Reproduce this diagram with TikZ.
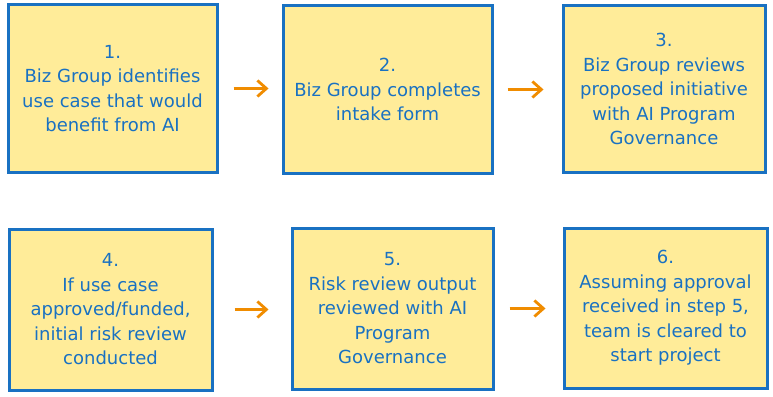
\documentclass[tikz,border=0pt]{standalone}
\usepackage{fontspec}
\setmainfont{DejaVu Sans}
\usepackage{xcolor}
\usepackage{tikz}
\usetikzlibrary{arrows.meta, positioning}
\definecolor{sticky}{HTML}{FFEC99}
\definecolor{inkblue}{HTML}{1971C2}
\definecolor{orange}{HTML}{F08C00}
\tikzset{
  stepbox/.style={rectangle, draw=inkblue, fill=sticky, text=inkblue, line width=3pt, align=center, font=\fontsize{18}{24.5}\selectfont, inner sep=4pt},
  flow/.style={-{Straight Barb[length=9pt, width=16pt, line width=2.8pt]}, line width=2.8pt, color=orange, shorten <=15pt, shorten >=15pt},
}
\begin{document}
\begin{tikzpicture}[x=1pt, y=-1pt]
  \useasboundingbox (0,0) rectangle (773,396);
  % top row
  \node[stepbox, minimum width=209pt, minimum height=167pt] (identify) at (112.5,88.5) {1.\\Biz Group identifies\\use case that would\\benefit from AI};
  \node[stepbox, minimum width=209pt, minimum height=167pt] (intake) at (387.5,89.5) {2.\\Biz Group completes\\intake form};
  \node[stepbox, minimum width=202pt, minimum height=166pt] (propose) at (664,89) {3.\\Biz Group reviews\\proposed initiative\\with AI Program\\Governance};
  % bottom row
  \node[stepbox, minimum width=203pt, minimum height=161pt] (riskreview) at (110.5,309.5) {4.\\If use case\\approved/funded,\\initial risk review\\conducted};
  \node[stepbox, minimum width=201pt, minimum height=161pt] (output) at (392.5,308.5) {5.\\Risk review output\\reviewed with AI\\Program\\Governance};
  \node[stepbox, minimum width=203pt, minimum height=160pt] (cleared) at (665.5,308) {6.\\Assuming approval\\received in step 5,\\team is cleared to\\start project};
  % connectors
  \draw[flow, shorten >=13pt] (identify.east) -- (identify.east -| intake.west);
  \draw[flow, shorten <=14pt, shorten >=18pt] (intake.east) -- (intake.east -| propose.west);
  \draw[flow, shorten <=21pt, shorten >=22pt] (riskreview.east) -- (riskreview.east -| output.west);
  \draw[flow, shorten >=17pt] (output.east) -- (output.east -| cleared.west);
\end{tikzpicture}
\end{document}
